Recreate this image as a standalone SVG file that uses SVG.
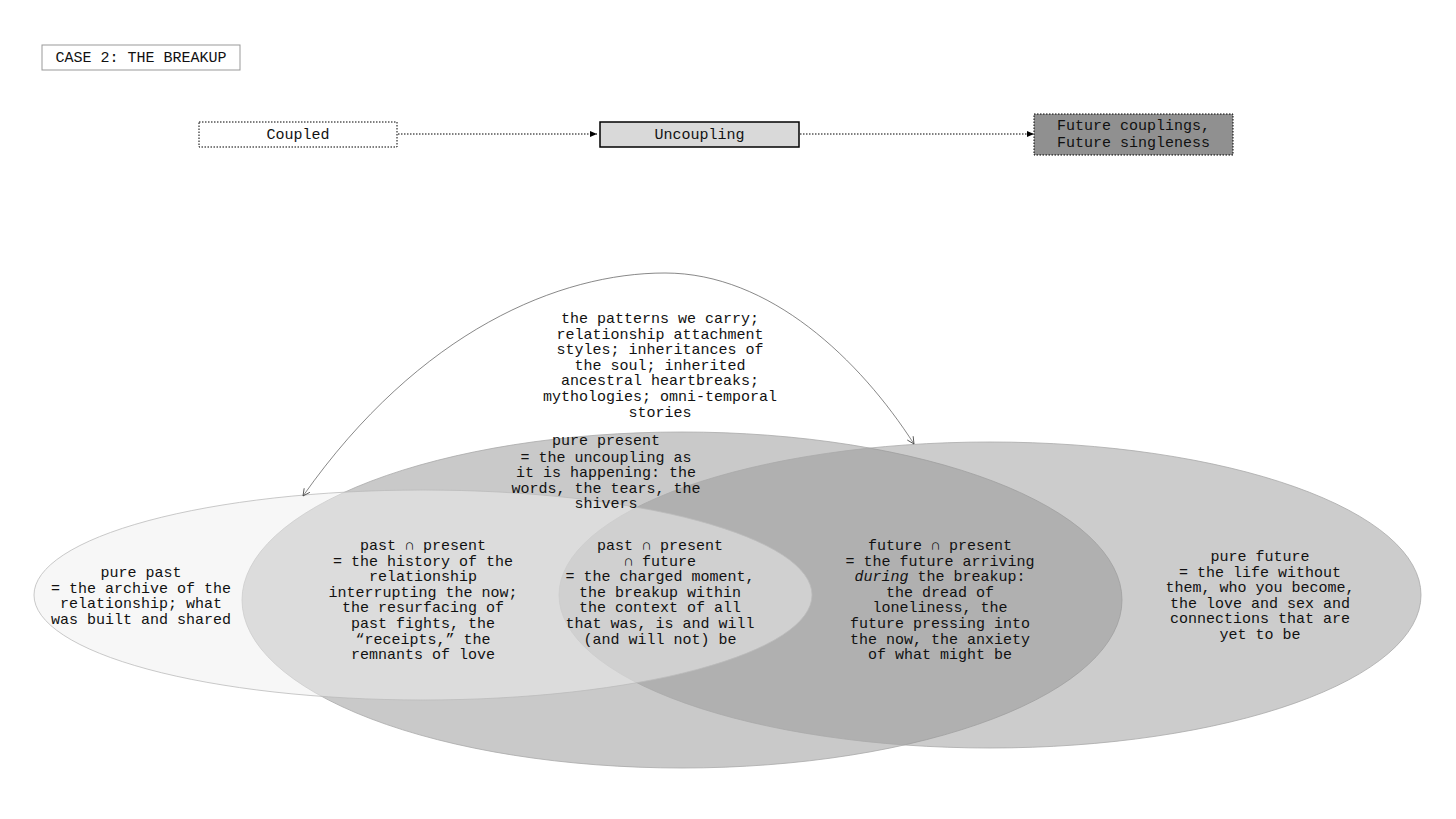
<svg xmlns="http://www.w3.org/2000/svg" width="1456" height="819" viewBox="0 0 1456 819">
<defs>
<style>
text{font-family:"Liberation Mono","DejaVu Sans Mono",monospace;font-size:15px;fill:#111;text-anchor:middle}
.box{stroke-width:1}
</style>
<marker id="ah" markerWidth="8" markerHeight="8" refX="7" refY="4" orient="auto" markerUnits="userSpaceOnUse">
<path d="M0,1 L7,4 L0,7 Z" fill="#000"/>
</marker>
<marker id="oa" markerWidth="10" markerHeight="10" refX="8" refY="5" orient="auto-start-reverse" markerUnits="userSpaceOnUse">
<path d="M1,1.5 L8,5 L1,8.5" fill="none" stroke="#444" stroke-width="0.8"/>
</marker>
</defs>
<rect width="1456" height="819" fill="#fff"/>

<g id="title">
<rect x="42" y="45" width="198" height="25" fill="#fff" stroke="#999" stroke-width="1"/>
<text x="141" y="62">CASE 2: THE BREAKUP</text>
</g>

<g id="coupled">
<rect x="199" y="122" width="198" height="25" fill="#fff" stroke="#000" stroke-width="1" stroke-dasharray="1.5,1.5"/>
<text x="298" y="139">Coupled</text>
</g>
<g id="uncoupling">
<rect x="600" y="122" width="199" height="25" fill="#d9d9d9" stroke="#000" stroke-width="1.5"/>
<text x="699.5" y="139">Uncoupling</text>
</g>
<g id="future-box">
<rect x="1034" y="114" width="199" height="41" fill="#909090" stroke="#000" stroke-width="1" stroke-dasharray="1.5,1.5"/>
<text x="1133.5" y="130">Future couplings,</text>
<text x="1133.5" y="147">Future singleness</text>
</g>

<g id="ellipses">
<ellipse id="present" cx="682" cy="600" rx="440" ry="168" fill="#c9c9c9" stroke="#aaa" stroke-width="0.8"/>
<ellipse id="future" cx="990" cy="595" rx="431" ry="153" fill="#959595" fill-opacity="0.48" stroke="#aaa" stroke-width="0.8"/>
<ellipse id="past" cx="423" cy="595" rx="389" ry="105" fill="#efefef" fill-opacity="0.5" stroke="#bbb" stroke-width="0.8"/>
</g>

<g id="connectors">
<line x1="398" y1="134" x2="597" y2="134" stroke="#000" stroke-width="1" stroke-dasharray="1.5,1.5" marker-end="url(#ah)"/>
<line x1="800" y1="134" x2="1034" y2="134" stroke="#000" stroke-width="1" stroke-dasharray="1.5,1.5" marker-end="url(#ah)"/>
<path d="M303,496 C420,330 560,273 665,273 C770,273 860,360 914,444" fill="none" stroke="#555" stroke-width="0.7" marker-start="url(#oa)" marker-end="url(#oa)"/>
</g>

<g id="patterns-label">
<text x="660" y="323">the patterns we carry;</text>
<text x="660" y="338.6">relationship attachment</text>
<text x="660" y="354.2">styles; inheritances of</text>
<text x="660" y="369.8">the soul; inherited</text>
<text x="660" y="385.4">ancestral heartbreaks;</text>
<text x="660" y="401">mythologies; omni-temporal</text>
<text x="660" y="416.6">stories</text>
</g>

<g id="pure-present">
<text x="606" y="445">pure present</text>
<text x="606" y="461.6">= the uncoupling as</text>
<text x="606" y="477.2">it is happening: the</text>
<text x="606" y="492.8">words, the tears, the</text>
<text x="606" y="508.4">shivers</text>
</g>

<g id="pure-past">
<text x="141" y="577">pure past</text>
<text x="141" y="592.6">= the archive of the</text>
<text x="141" y="608.2">relationship; what</text>
<text x="141" y="623.8">was built and shared</text>
</g>

<g id="past-present">
<text x="423" y="550">past ∩ present</text>
<text x="423" y="565.6">= the history of the</text>
<text x="423" y="581.2">relationship</text>
<text x="423" y="596.8">interrupting the now;</text>
<text x="423" y="612.4">the resurfacing of</text>
<text x="423" y="628">past fights, the</text>
<text x="423" y="643.6">“receipts,” the</text>
<text x="423" y="659.2">remnants of love</text>
</g>

<g id="triple">
<text x="660" y="550">past ∩ present</text>
<text x="660" y="565.6">∩ future</text>
<text x="660" y="581.2">= the charged moment,</text>
<text x="660" y="596.8">the breakup within</text>
<text x="660" y="612.4">the context of all</text>
<text x="660" y="628">that was, is and will</text>
<text x="660" y="643.6">(and will not) be</text>
</g>

<g id="future-present">
<text x="940" y="550">future ∩ present</text>
<text x="940" y="565.6">= the future arriving</text>
<text x="940" y="581.2"><tspan font-style="italic">during</tspan> the breakup:</text>
<text x="940" y="596.8">the dread of</text>
<text x="940" y="612.4">loneliness, the</text>
<text x="940" y="628">future pressing into</text>
<text x="940" y="643.6">the now, the anxiety</text>
<text x="940" y="659.2">of what might be</text>
</g>

<g id="pure-future">
<text x="1260" y="561">pure future</text>
<text x="1260" y="576.6">= the life without</text>
<text x="1260" y="592.2">them, who you become,</text>
<text x="1260" y="607.8">the love and sex and</text>
<text x="1260" y="623.4">connections that are</text>
<text x="1260" y="639">yet to be</text>
</g>
</svg>
